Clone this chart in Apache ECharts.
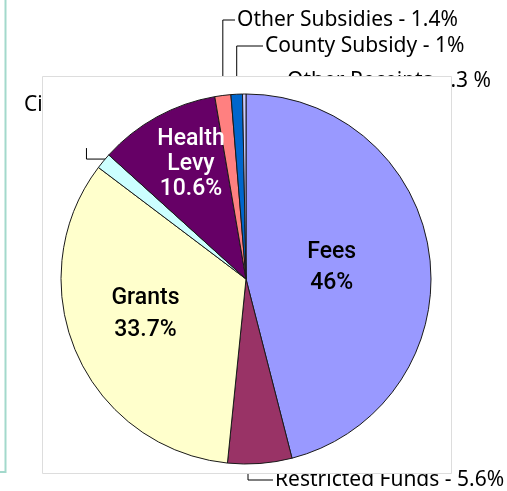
<!DOCTYPE html>
<html>
<head>
<meta charset="utf-8">
<script src="https://cdn.jsdelivr.net/npm/echarts@6/dist/echarts.min.js"></script>
<style>
  html, body { margin: 0; padding: 0; background: #fff; }
  #chart { width: 507px; height: 491px; }
</style>
</head>
<body>
<div id="chart"></div>
<script>
// revenue shares, clockwise from 12 o'clock
const sources = ['Fees', 'Restricted Funds', 'Grants', 'City Subsidy', 'Health Levy', 'Other Subsidies', 'County Subsidy', 'Other Receipts']
const shares = [46, 5.6, 33.7, 1.4, 10.6, 1.4, 1, 0.3]
const shareText = ['46%', '5.6%', '33.7%', '1.4%', '10.6%', '1.4%', '1%', '.3 %']
const sliceColors = ['#9999ff', '#993366', '#ffffcc', '#ccffff', '#660066', '#ff8080', '#0066cc', '#ccccff']
const insideNames = ['Fees', 'Grants', 'Health Levy']

// label placement (not data)
const insideNudge = {
  'Fees': [-9, 1],
  'Grants': [-13, -3],
  'Health Levy': [-9, -31.5]
}
const insideLineHeight = { 'Fees': 31, 'Grants': 32, 'Health Levy': 25 }
const outerSpots = {
  'Other Subsidies': { x: 237, y: 20 },
  'County Subsidy': { x: 265, y: 46 },
  'Other Receipts': { x: 287, y: 81 },
  'Restricted Funds': { x: 275, y: 480, elbowX: 248 },
  'City Subsidy': { x: 24, y: 105 }
}

const chart = echarts.init(document.getElementById('chart'))

const center = [246, 279]
const radius = 185

// bottom layer: outside labels only, later covered by the white panel
const labelData = sources.map(function (name, i) {
  return {
    name: name,
    value: shares[i],
    label: { show: !!outerSpots[name] },
    labelLine: { show: !!outerSpots[name] && name !== 'City Subsidy' }
  }
})

// top layer: the coloured slices with the inside labels
const sliceData = sources.map(function (name, i) {
  const inside = insideNames.indexOf(name) >= 0
  const item = {
    name: name,
    value: shares[i],
    itemStyle: { color: sliceColors[i] },
    label: { show: inside },
    labelLine: { show: false }
  }
  if (inside) {
    item.label.lineHeight = insideLineHeight[name]
    item.label.color = name === 'Health Levy' ? '#ffffff' : '#000000'
  }
  if (name === 'City Subsidy') {
    item.label = { show: true, position: 'outside', formatter: ' ' }
    item.labelLine = { show: true }
  }
  return item
})

chart.setOption({
  animation: false,
  backgroundColor: '#ffffff',
  graphic: [
    {
      type: 'rect',
      z: 1,
      shape: { x: 42.5, y: 76.5, width: 409, height: 397 },
      style: { fill: '#ffffff', stroke: '#dddddd', lineWidth: 1 }
    },
    {
      type: 'polyline',
      z: 1,
      shape: { points: [[5.5, 0], [5.5, 472], [0, 472]] },
      style: { fill: null, stroke: '#a3d9cc', lineWidth: 2 }
    }
  ],
  series: [
    {
      type: 'pie',
      z: 0,
      silent: true,
      center: center,
      radius: radius,
      startAngle: 90,
      avoidLabelOverlap: false,
      itemStyle: { color: 'rgba(0,0,0,0)', borderWidth: 0 },
      label: {
        position: 'outside',
        color: '#000000',
        fontFamily: '"Noto Sans", sans-serif',
        fontSize: 21,
        formatter: function (p) {
          return p.name + ' - ' + shareText[p.dataIndex]
        }
      },
      labelLine: {
        lineStyle: { color: '#000000', width: 1 }
      },
      labelLayout: function (p) {
        const spot = outerSpots[sources[p.dataIndex]]
        if (!spot) {
          return {}
        }
        const out = { x: spot.x, y: spot.y, align: 'left', verticalAlign: 'middle' }
        if (p.labelLinePoints) {
          const p0 = p.labelLinePoints[0]
          const ex = spot.elbowX != null ? spot.elbowX : p0[0]
          out.labelLinePoints = [[ex, p0[1]], [ex, spot.y], [spot.x - 2, spot.y]]
        }
        return out
      },
      data: labelData
    },
    {
      type: 'pie',
      z: 2,
      center: center,
      radius: radius,
      startAngle: 90,
      avoidLabelOverlap: false,
      itemStyle: { borderColor: '#1a1a1a', borderWidth: 1 },
      label: {
        position: 'inside',
        fontFamily: '"Liberation Sans Narrow", Roboto, sans-serif',
        fontSize: 23,
        fontWeight: 500,
        align: 'center',
        formatter: function (p) {
          return p.name.replace(' ', '\n') + '\n' + shareText[p.dataIndex]
        }
      },
      labelLine: {
        lineStyle: { color: '#000000', width: 1 }
      },
      labelLayout: function (p) {
        const name = sources[p.dataIndex]
        const nudge = insideNudge[name]
        if (nudge) {
          const r = p.labelRect
          return {
            x: r.x + r.width / 2 + nudge[0],
            y: r.y + r.height / 2 + nudge[1],
            align: 'center',
            verticalAlign: 'middle'
          }
        }
        if (name === 'City Subsidy' && p.labelLinePoints) {
          const p0 = p.labelLinePoints[0]
          return {
            labelLinePoints: [[p0[0] - 17, p0[1] - 13], [p0[0] - 17, p0[1] - 2], [p0[0] + 3, p0[1] - 2]]
          }
        }
        return {}
      },
      data: sliceData
    }
  ]
})
</script>
</body>
</html>
